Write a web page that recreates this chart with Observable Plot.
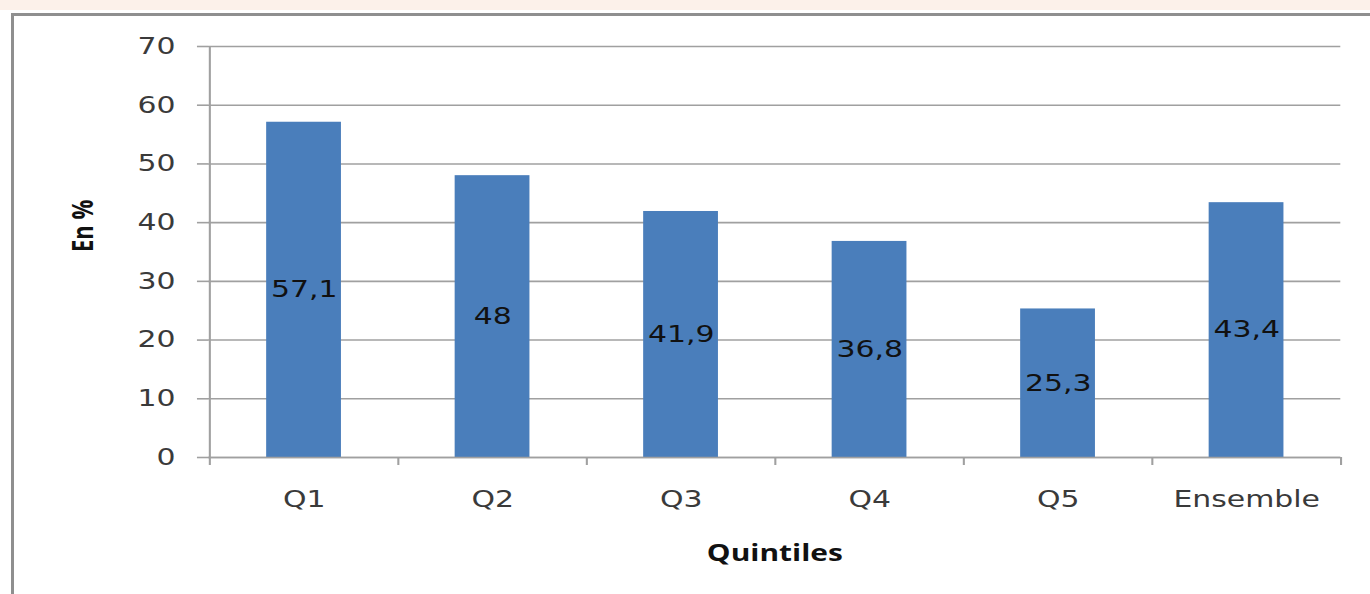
<!DOCTYPE html>
<html>
<head>
<meta charset="utf-8">
<script src="https://cdn.jsdelivr.net/npm/d3@7"></script>
<script src="https://cdn.jsdelivr.net/npm/@observablehq/plot@0.6"></script>
<style>
  html, body { margin: 0; padding: 0; background: #ffffff; overflow: hidden; width: 1370px; height: 594px; }
  #band { position: absolute; left: 0; top: 0; width: 1370px; height: 10px; background: #fcf1ea; }
  #frame { position: absolute; left: 11px; top: 13px; width: 1370px; height: 600px;
           border-top: 3px solid #8f8f8f; border-left: 3px solid #8f8f8f; box-sizing: border-box; }
  #chart { position: absolute; left: 13px; top: 15px; }
  #chart svg { transform: scaleX(1.3); transform-origin: 0 0; }
</style>
</head>
<body>
<div id="band"></div>
<div id="frame"></div>
<div id="chart"></div>
<script>
const categories = ["Q1", "Q2", "Q3", "Q4", "Q5", "Ensemble"];
const values = [57.1, 48, 41.9, 36.8, 25.3, 43.4];
const valueLabels = ["57,1", "48", "41,9", "36,8", "25,3", "43,4"];
const yTicks = [0, 10, 20, 30, 40, 50, 60, 70];
const xTitle = "Quintiles";
const yTitle = "En %";

const data = categories.map((c, i) => ({ cat: c, value: values[i], label: valueLabels[i] }));

const W = 1044, H = 579;
const mL = 150, mR = 23, mT = 31, mB = 137;
const bw = (W - mL - mR) / categories.length;
const barW = 57.7;
const inset = (bw - barW) / 2;
const gridColor = "#a0a0a0";
const textColor = "#3a3a3a";

const plot = Plot.plot({
  width: W,
  height: H,
  marginLeft: mL,
  marginRight: mR,
  marginTop: mT,
  marginBottom: mB,
  style: { fontFamily: "'DejaVu Sans', sans-serif", background: "transparent", overflow: "visible" },
  x: { domain: categories, padding: 0, label: null },
  y: { domain: [0, 70], label: null },
  marks: [
    Plot.gridY(yTicks, { stroke: gridColor, strokeOpacity: 1, strokeWidth: 1.6 }),
    Plot.axisY(yTicks, {
      tickSize: 8.5, tickPadding: 17, stroke: gridColor, strokeWidth: 1.6,
      fill: textColor, fontSize: 23, tickFormat: d => String(d), label: null
    }),
    Plot.barY(data, { x: "cat", y: "value", fill: "#4a7ebb", insetLeft: inset, insetRight: inset }),
    Plot.ruleX([categories[0]], { x: d => d, dx: -bw / 2, y1: 0, y2: 70, stroke: gridColor, strokeWidth: 1.6 }),
    Plot.ruleX(categories, { x: d => d, dx: -bw / 2, y1: 0, y2: 0, insetBottom: -8, stroke: gridColor, strokeWidth: 1.6 }),
    Plot.ruleX([categories[categories.length - 1]], { x: d => d, dx: bw / 2, y1: 0, y2: 0, insetBottom: -8, stroke: gridColor, strokeWidth: 1.6 }),
    Plot.ruleY([0], { stroke: gridColor, strokeWidth: 1.6 }),
    Plot.axisX({ tickSize: 0, tickPadding: 33, fill: textColor, fontSize: 23, label: null }),
    Plot.text(data, { x: "cat", y: d => d.value / 2, text: "label", fill: "#111", fontSize: 23, lineAnchor: "middle" }),
    Plot.text([xTitle], { frameAnchor: "bottom", dy: 96, text: d => d, fontFamily: "'Open Sans', sans-serif", fontWeight: "bold", fontSize: 23, fill: "#111", lineAnchor: "middle" }),
    Plot.text([yTitle], { frameAnchor: "left", dx: -96, rotate: -90, text: d => d, fontFamily: "'Open Sans', sans-serif", fontWeight: "bold", fontSize: 22, fill: "#111", lineAnchor: "middle" })
  ]
});
document.getElementById("chart").appendChild(plot);
</script>
</body>
</html>
